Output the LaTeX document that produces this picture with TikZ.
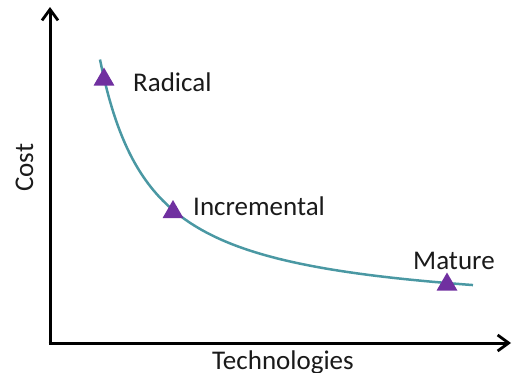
\documentclass[tikz,border=0pt]{standalone}
\usepackage{fontspec}
\setmainfont{Carlito}
\usetikzlibrary{arrows.meta,shapes.geometric}
\definecolor{curvecol}{HTML}{4A98A3}
\definecolor{markcol}{HTML}{7030A0}
\definecolor{txtcol}{HTML}{1A1A1A}
\begin{document}
\begin{tikzpicture}[x=1pt,y=-1pt,
  axis/.style={line width=3pt,-{Straight Barb[length=11pt,width=16pt,line width=2.8pt]}},
  marker/.style={regular polygon,regular polygon sides=3,fill=markcol,inner sep=0pt,minimum size=24pt},
  lbl/.style={font=\fontsize{27}{30}\selectfont,text=txtcol,inner sep=0pt,anchor=base west}]
\useasboundingbox (0,0) rectangle (513,372);
\coordinate (ytop) at (50,7);
\coordinate (xend) at (511,343);
\draw[axis] (50,344.5) -- (ytop);
\draw[axis] (48.5,343) -- (xend);
\draw[curvecol,line width=2.5pt,domain=100:473,samples=120,smooth] plot (\x,{316.2-13219/(\x-48.5)});
\node[marker] (m1) at (104,79.5) {};
\node[marker] (m2) at (173,212) {};
\node[marker] (m3) at (447,284.5) {};
\node[lbl] (t1) at (133,91.5) {Radical};
\node[lbl] (t2) at (193,215) {Incremental};
\node[lbl] (t3) at (413,269) {Mature};
\node[lbl,rotate=90] (t4) at (33,192) {Cost};
\node[lbl] (t5) at (212,369.5) {Technologies};
\end{tikzpicture}
\end{document}
